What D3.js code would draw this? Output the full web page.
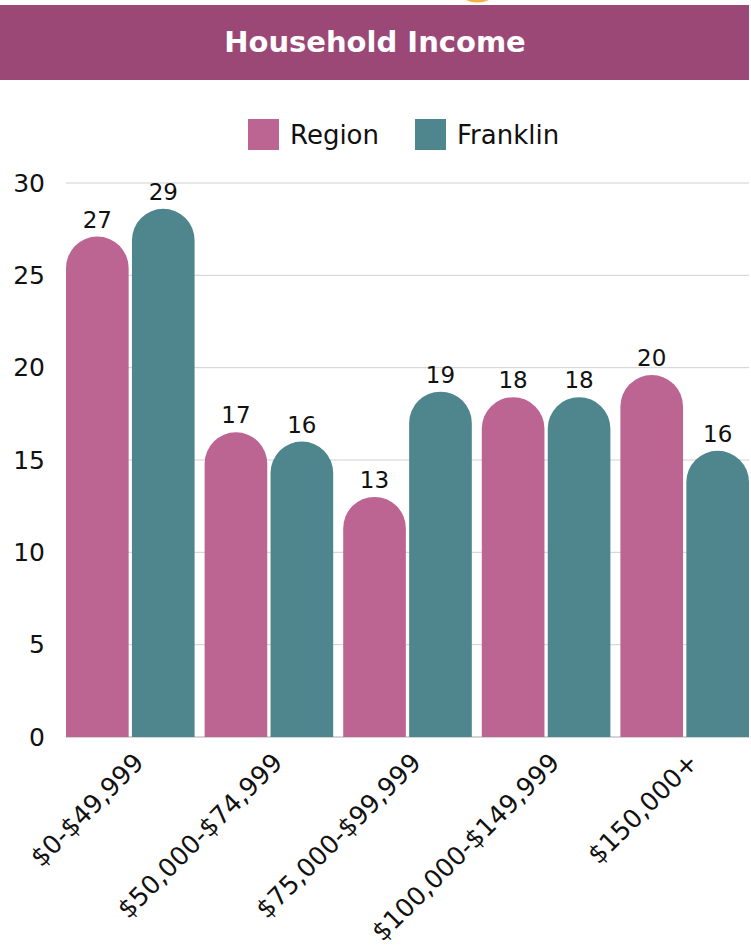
<!DOCTYPE html>
<html>
<head>
<meta charset="utf-8">
<script src="https://cdn.jsdelivr.net/npm/d3@7"></script>
<style>
  html, body { margin: 0; padding: 0; background: #fff; }
  svg { display: block; font-family: "DejaVu Sans", "Noto Sans", sans-serif; }
</style>
</head>
<body>
<svg id="chart" width="751" height="946"></svg>
<script>
const categories = ["$0-$49,999", "$50,000-$74,999", "$75,000-$99,999", "$100,000-$149,999", "$150,000+"];
const seriesNames = ["Region", "Franklin"];
const regionValues = [27.1, 16.5, 13.0, 18.4, 19.6];
const franklinValues = [28.6, 16.0, 18.7, 18.4, 15.5];
const yTicks = [0, 5, 10, 15, 20, 25, 30];
const colors = ["#bd6592", "#4f858c"];
const title = "Household Income";

const svg = d3.select("#chart");
const W = 751, H = 946;
const margin = { left: 66, right: 2, top: 183, bottom: 209 };
const plotW = W - margin.left - margin.right;
const plotH = H - margin.top - margin.bottom;
const textColor = "#111";

// header
svg.append("path")
  .attr("d", "M466,0 Q477,5 489,0 Z")
  .attr("fill", "#f5b040");
svg.append("rect").attr("x", 0).attr("y", 5).attr("width", 749).attr("height", 75).attr("fill", "#9c4876");
svg.append("text").attr("x", 375).attr("y", 52).attr("text-anchor", "middle")
  .attr("fill", "#fff").attr("font-size", 29).attr("font-weight", "bold").text(title);

const g = svg.append("g").attr("transform", `translate(${margin.left},${margin.top})`);

const y = d3.scaleLinear().domain([0, 30]).range([plotH, 0]);
const x0 = d3.scaleBand().domain(categories).range([0, plotW + 10]).paddingInner(0).paddingOuter(0);
const x1 = d3.scaleBand().domain(seriesNames).range([0, x0.bandwidth() - 10]).paddingInner(0.05);

// gridlines
g.append("g").selectAll("line").data(yTicks).join("line")
  .attr("x1", 0).attr("x2", plotW).attr("y1", d => y(d)).attr("y2", d => y(d))
  .attr("stroke", d => d === 0 ? "#aaa" : "#d0d0d0").attr("stroke-width", 1);

// y axis labels
const yAxis = d3.axisLeft(y).tickValues(yTicks).tickSize(0).tickPadding(21);
const ya = g.append("g").call(yAxis);
ya.select(".domain").remove();
ya.selectAll("text").attr("font-size", 25).attr("fill", textColor).attr("font-family", "'DejaVu Sans', sans-serif");

const data = categories.map((c, i) => ({ cat: c, vals: [regionValues[i], franklinValues[i]] }));

function barPath(x, w, top, bottom) {
  const r = w / 2;
  const h = bottom - top;
  const rr = Math.min(r, h);
  return `M${x},${bottom} L${x},${top + rr} A${r},${rr} 0 0 1 ${x + w},${top + rr} L${x + w},${bottom} Z`;
}

const groups = g.append("g").selectAll("g").data(data).join("g")
  .attr("transform", d => `translate(${x0(d.cat)},0)`);

groups.selectAll("path").data(d => d.vals.map((v, i) => ({ v, s: seriesNames[i], i }))).join("path")
  .attr("d", d => barPath(x1(d.s), x1.bandwidth(), y(d.v), y(0)))
  .attr("fill", d => colors[d.i]);

groups.selectAll("text").data(d => d.vals.map((v, i) => ({ v, s: seriesNames[i] }))).join("text")
  .attr("x", d => x1(d.s) + x1.bandwidth() / 2)
  .attr("y", d => y(d.v) - 9)
  .attr("text-anchor", "middle").attr("font-size", 23).attr("fill", textColor)
  .text(d => Math.round(d.v));

// x axis labels
const xa = g.append("g").attr("transform", `translate(0,${plotH})`);
xa.selectAll("text").data(categories).join("text")
  .attr("transform", c => `translate(${x0(c) + (x0.bandwidth() - 10) / 2 + 15},${27}) rotate(-45)`)
  .attr("text-anchor", "end").attr("font-size", 25.5).attr("fill", textColor)
  .text(c => c);

// legend
const legend = svg.append("g");
const legendItems = [{ name: seriesNames[0], x: 248 }, { name: seriesNames[1], x: 415 }];
legendItems.forEach((it, i) => {
  legend.append("rect").attr("x", it.x).attr("y", 119).attr("width", 31).attr("height", 31).attr("fill", colors[i]);
  legend.append("text").attr("x", it.x + 42).attr("y", 144).attr("font-size", 26).attr("fill", textColor).text(it.name);
});
</script>
</body>
</html>
